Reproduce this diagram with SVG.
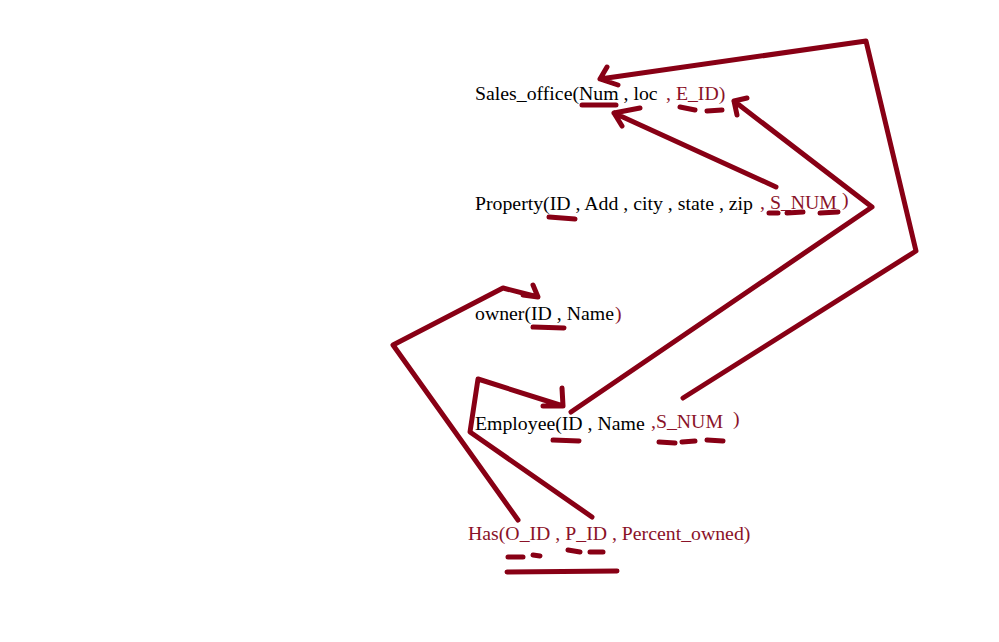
<svg xmlns="http://www.w3.org/2000/svg" width="999" height="642" viewBox="0 0 999 642">
<style>
text{font-family:"Liberation Serif","Times New Roman",serif;font-size:19.8px}
.k{fill:#000}
.r{fill:#8a1228}
.ln{fill:none;stroke:#880015;stroke-width:5;stroke-linecap:round;stroke-linejoin:round}
</style>
<rect width="999" height="642" fill="#fff"/>
<g id="sales_office">
<text class="k" x="475" y="100">Sales_office(Num , loc</text>
<text class="r" x="666" y="100">, E_ID)</text>
<path class="ln" d="M582 105L616 105M680 107L695 110M707 111L722 110"/>
</g>
<g id="property">
<text class="k" x="475" y="210">Property(ID , Add , city , state , zip</text>
<text class="r" x="760" y="209">, S_NUM</text>
<text class="r" x="842" y="206">)</text>
<path class="ln" d="M549 217L575 219M769 213L778 213M787 213L803 212M820 213L838 212"/>
</g>
<g id="owner">
<text class="k" x="475" y="320">owner(ID , Name</text>
<text class="r" x="615" y="320">)</text>
<path class="ln" d="M533 327L564 328"/>
</g>
<g id="employee">
<text class="k" x="475" y="430">Employee(ID , Name</text>
<text class="r" x="651" y="428">,S_NUM</text>
<text class="r" x="733" y="425">)</text>
<path class="ln" d="M553 440L579 441M659 442L675 443M682 442L695 441M707 440L723 441"/>
</g>
<g id="has">
<text class="r" x="468" y="540">Has(O_ID , P_ID , Percent_owned)</text>
<path class="ln" d="M508 557L523 557M533 555L540 556M568 550L580 552M590 552L603 552M507 572L617 571"/>
</g>
<g id="connectors">
<path class="ln" d="M683 398L916 251L866 41L600 79M607 67L600 79L618 85"/>
<path class="ln" d="M776 187L614 113L640 108M614 113L622 126"/>
<path class="ln" d="M571 412L872 207L734 101L747 98M734 101L737 115"/>
<path class="ln" d="M518 520L393 345L503 288L538 297L533 285M538 297L523 295"/>
<path class="ln" d="M592 517L470 432L478 379L563 406L562 388M563 406L543 406"/>
</g>
</svg>
